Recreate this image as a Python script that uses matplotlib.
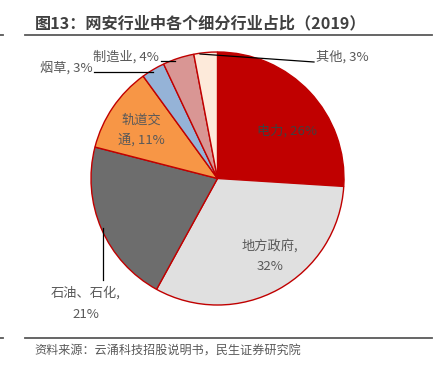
import matplotlib
matplotlib.use("Agg")
import matplotlib.pyplot as plt
from matplotlib.lines import Line2D

plt.rcParams['font.family'] = ['Noto Sans CJK SC', 'DejaVu Sans']

# data
labels = ['电力', '地方政府', '石油、石化', '轨道交通', '烟草', '制造业', '其他']
shares = [26, 32, 21, 11, 3, 4, 3]
slice_colors = ['#C00000', '#E0E0E0', '#6D6D6D', '#F79646', '#95B3D7', '#D99694', '#FDEADA']

title = '图13：网安行业中各个细分行业占比（2019）'
source = '资料来源：云涌科技招股说明书，民生证券研究院'

W, H = 446, 365
fig = plt.figure(figsize=(W / 100, H / 100), dpi=100)

# pie centre / radius in pixels
cx, cy, r = 217.5, 178.5, 126.5
ax = fig.add_axes([(cx - r) / W, (H - cy - r) / H, 2 * r / W, 2 * r / H])
ax.pie(shares, colors=slice_colors, startangle=90, counterclock=False,
       wedgeprops=dict(edgecolor='#C00000', linewidth=1.0))
ax.set_xlim(-1, 1)
ax.set_ylim(-1, 1)
ax.set_aspect('auto')
ax.axis('off')


def px(x, y):
    # pixel -> data coords of the pie axes
    return (x - cx) / r, (cy - y) / r


txt = '#595959'
fs = 9.5


def lab(x, y, s, color=txt):
    ax.text(*px(x, y), s, ha='center', va='center', fontsize=fs, color=color,
            clip_on=False)


def lead(pts):
    xs, ys = zip(*[px(a, b) for a, b in pts])
    ax.add_line(Line2D(xs, ys, color='black', lw=0.9, clip_on=False))


lab(287, 131, f'{labels[0]}, {shares[0]}%', color='#404040')
lab(270, 246, f'{labels[1]},')
lab(270, 267, f'{shares[1]}%')
lab(86, 293, f'{labels[2]},')
lab(86, 314, f'{shares[2]}%')
lab(141, 120, labels[3][:3])
lab(141, 140, f'{labels[3][3:]}, {shares[3]}%')
lab(66, 68, f'{labels[4]}, {shares[4]}%')
lab(126, 57, f'{labels[5]}, {shares[5]}%')
lab(342, 57, f'{labels[6]}, {shares[6]}%')

lead([(103, 228), (103, 280)])
lead([(94, 72), (153, 72)])
lead([(161, 61), (175, 61)])
lead([(200, 54), (314, 62)])

# title and rules
fig.text(35 / W, 1 - 23 / H, title, fontsize=11.6, fontweight='bold',
         color='#404040', ha='left', va='center')
fig.add_artist(Line2D([25 / W, 432 / W], [1 - 34.5 / H] * 2, color='#595959', lw=1.3))
fig.add_artist(Line2D([0, 3 / W], [1 - 34.5 / H] * 2, color='#595959', lw=1.3))
fig.add_artist(Line2D([25 / W, 432 / W], [1 - 338 / H] * 2, color='#595959', lw=1.3))
fig.add_artist(Line2D([0, 3 / W], [1 - 338 / H] * 2, color='#595959', lw=1.3))
fig.text(34 / W, 1 - 351 / H, source, fontsize=8.7, color=txt,
         ha='left', va='center')

fig.savefig('out.png', dpi=100)
